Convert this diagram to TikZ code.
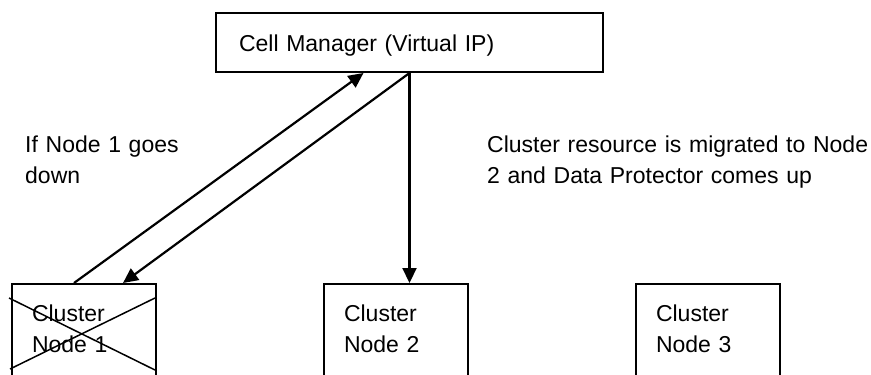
\documentclass[tikz,border=0pt]{standalone}
\usepackage{fontspec}
\setmainfont{Liberation Sans}
\usepackage{tikz}
\usetikzlibrary{arrows.meta, positioning}

\begin{document}
\begin{tikzpicture}[
        x=1pt, y=-1pt,
        font=\fontsize{23}{31}\selectfont,
        >={Triangle[length=15pt, width=14pt]},
        mgr/.style={
            rectangle,
            draw,
            line width=2pt,
            anchor=north west,
            align=left,
            text width=341pt,
            inner xsep=23pt,
            inner ysep=0pt,
            text height=38pt,
            text depth=21pt,
        },
        cnode/.style={
            rectangle,
            draw,
            line width=2pt,
            anchor=north west,
            align=left,
            text width=104pt,
            inner xsep=20pt,
            inner ysep=0pt,
            text height=37pt,
            text depth=100pt,
        },
        note/.style={
            anchor=base west,
            align=left,
            inner sep=0pt,
        },
        link/.style={
            ->,
            line width=2.2pt,
        },
    ]

    % Frame of the page
    \useasboundingbox (0,0) rectangle (871,375);
    \clip (0,0) rectangle (871,375);

    % Draw the cell manager
    \node [mgr] (cm) at (215,12) {Cell Manager (Virtual IP)};

    % Draw cluster nodes named node#
    \node [cnode] (node1) at (11,283) {Cluster\\Node 1};
    \node [cnode] (node2) at (323,283) {Cluster\\Node 2};
    \node [cnode] (node3) at (635,283) {Cluster\\Node 3};

    % Notes
    \node [note, text width=190pt] (down) at (25,152) {If Node 1 goes\\down};
    \node [note, text width=384pt] (migr) at (487,152) {Cluster resource is migrated to Node\\2 and Data Protector comes up};

    % Node 1 is crossed out
    \draw [line width=1.5pt] ([shift={(-2,15)}]node1.north west) -- ([shift={(144,87)}]node1.north west);
    \draw [line width=1.5pt] ([shift={(-1,86)}]node1.north west) -- ([shift={(144,15)}]node1.north west);

    % Drawing arrows
    \draw [link] ([xshift=-10pt]node1.north) -- ([xshift=-46pt]cm.south);
    \draw [link] (cm.south) -- ([xshift=39pt]node1.north);
    \draw [link] (cm.south) -- (cm.south |- node2.north);

\end{tikzpicture}
\end{document}
